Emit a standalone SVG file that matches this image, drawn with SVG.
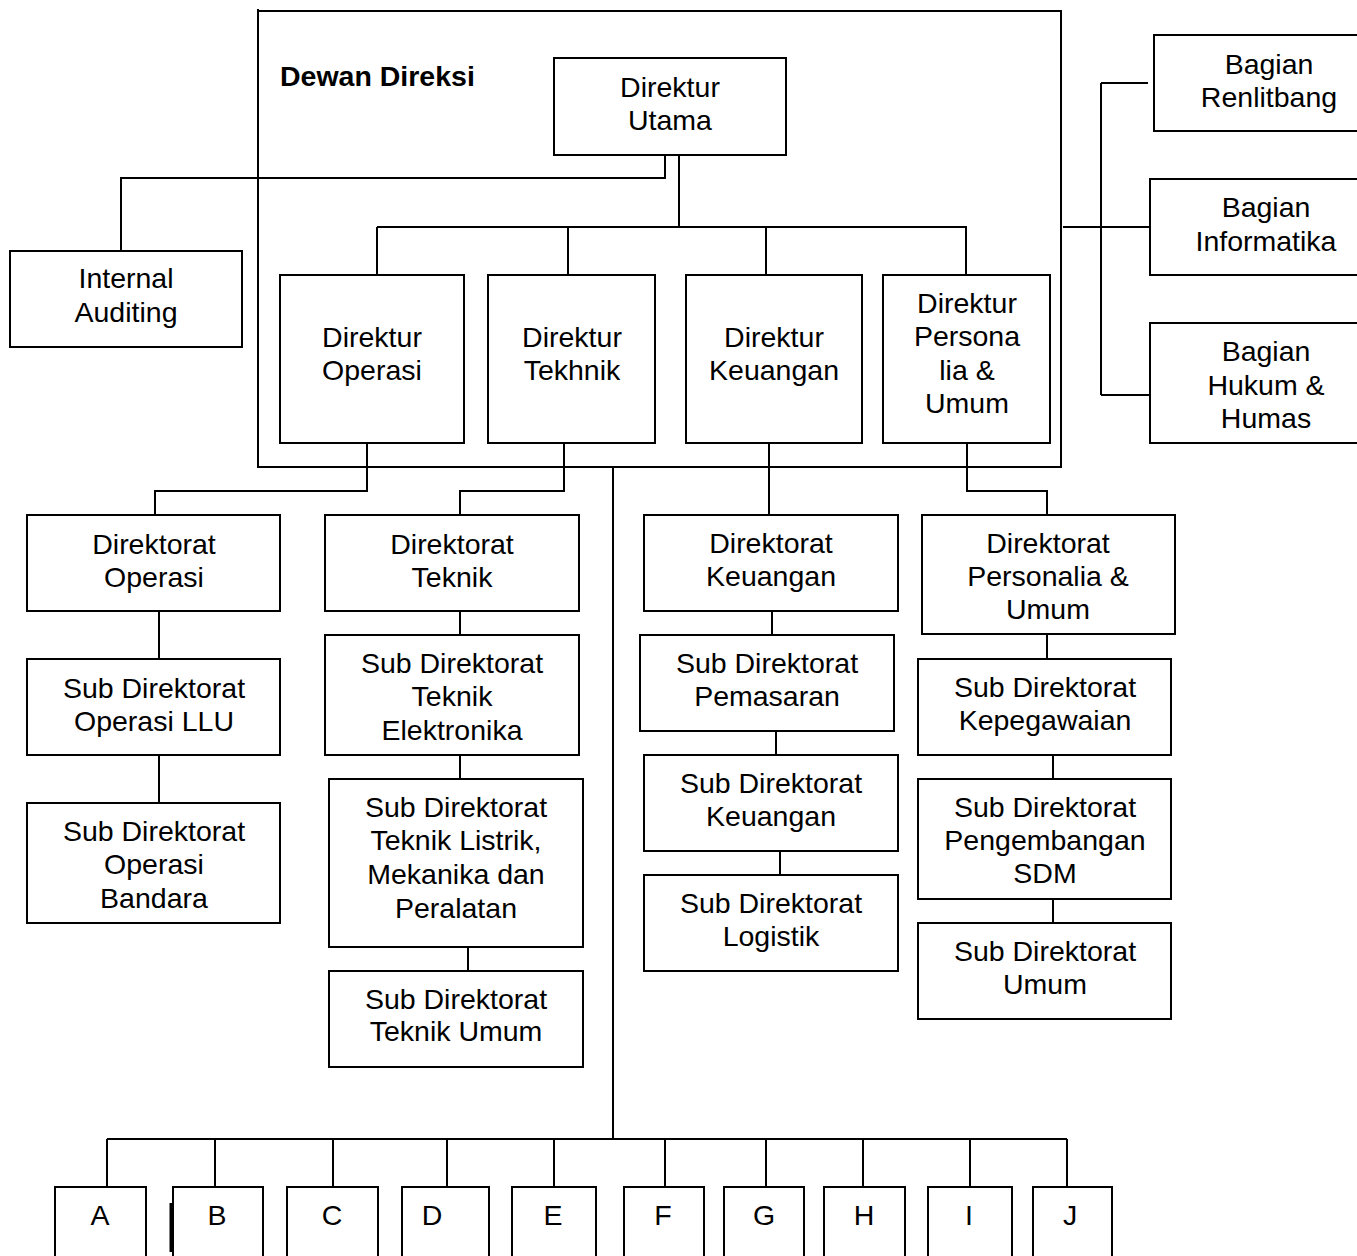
<svg xmlns="http://www.w3.org/2000/svg" width="1357" height="1256" viewBox="0 0 1357 1256">
<style>
.b{fill:#fff;stroke:#000;stroke-width:2}
.c{fill:none;stroke:#000;stroke-width:2}
text{font-family:"Liberation Sans",Arial,sans-serif;font-size:28.5px;fill:#000;text-anchor:middle}
.t{font-weight:bold;text-anchor:start}
</style>
<rect width="1357" height="1256" fill="#fff"/>
<g id="frame">
<path class="c" d="M258,9 V467 H1061 V11 H258"/>
<text class="t" x="280" y="86">Dewan Direksi</text>
</g>
<g id="connectors">
<path class="c" d="M665,155 V178 H121 V251"/>
<path class="c" d="M679,155 V227"/>
<path class="c" d="M377,227 H967 M377,227 V275 M568,227 V275 M766,227 V275 M966,227 V275"/>
<path class="c" d="M1063,227 H1150 M1101,83 V395 M1101,83 H1148 M1101,395 H1150"/>
<path class="c" d="M367,443 V491 H155 V515"/>
<path class="c" d="M564,443 V491 H460 V515"/>
<path class="c" d="M769,443 V515"/>
<path class="c" d="M967,443 V491 H1047 V515"/>
<path class="c" d="M159,611 V659 M159,755 V803"/>
<path class="c" d="M460,611 V635 M460,755 V779 M468,947 V971"/>
<path class="c" d="M772,611 V635 M776,731 V755 M780,851 V875"/>
<path class="c" d="M1047,634 V659 M1053,755 V779 M1053,899 V923"/>
<path class="c" d="M613,467 V1139"/>
<path class="c" d="M107,1139 H1067 M107,1139 V1187 M215,1139 V1187 M333,1139 V1187 M447,1139 V1187 M554,1139 V1187 M665,1139 V1187 M766,1139 V1187 M863,1139 V1187 M970,1139 V1187 M1067,1139 V1187"/>
<path stroke="#000" stroke-width="3" d="M171,1203 V1252"/>
</g>
<g id="dirut"><rect class="b" x="554" y="58" width="232" height="97"/><text x="670" y="97">Direktur</text><text x="670" y="130">Utama</text></g>
<g id="audit"><rect class="b" x="10" y="251" width="232" height="96"/><text x="126" y="288">Internal</text><text x="126" y="322">Auditing</text></g>
<g id="dir-operasi"><rect class="b" x="280" y="275" width="184" height="168"/><text x="372" y="347">Direktur</text><text x="372" y="380">Operasi</text></g>
<g id="dir-tekhnik"><rect class="b" x="488" y="275" width="167" height="168"/><text x="572" y="347">Direktur</text><text x="572" y="380">Tekhnik</text></g>
<g id="dir-keuangan"><rect class="b" x="686" y="275" width="176" height="168"/><text x="774" y="347">Direktur</text><text x="774" y="380">Keuangan</text></g>
<g id="dir-personalia"><rect class="b" x="883" y="275" width="167" height="168"/><text x="967" y="313">Direktur</text><text x="967" y="346">Persona</text><text x="967" y="380">lia &amp;</text><text x="967" y="413">Umum</text></g>
<g id="renlitbang"><rect class="b" x="1154" y="35" width="230" height="96"/><text x="1269" y="74">Bagian</text><text x="1269" y="107">Renlitbang</text></g>
<g id="informatika"><rect class="b" x="1150" y="179" width="234" height="96"/><text x="1266" y="217">Bagian</text><text x="1266" y="251">Informatika</text></g>
<g id="hukum"><rect class="b" x="1150" y="323" width="234" height="120"/><text x="1266" y="361">Bagian</text><text x="1266" y="395">Hukum &amp;</text><text x="1266" y="428">Humas</text></g>
<g id="dt-operasi"><rect class="b" x="27" y="515" width="253" height="96"/><text x="154" y="554">Direktorat</text><text x="154" y="587">Operasi</text></g>
<g id="sd-llu"><rect class="b" x="27" y="659" width="253" height="96"/><text x="154" y="698">Sub Direktorat</text><text x="154" y="731">Operasi LLU</text></g>
<g id="sd-bandara"><rect class="b" x="27" y="803" width="253" height="120"/><text x="154" y="841">Sub Direktorat</text><text x="154" y="874">Operasi</text><text x="154" y="908">Bandara</text></g>
<g id="dt-teknik"><rect class="b" x="325" y="515" width="254" height="96"/><text x="452" y="554">Direktorat</text><text x="452" y="587">Teknik</text></g>
<g id="sd-elektronika"><rect class="b" x="325" y="635" width="254" height="120"/><text x="452" y="673">Sub Direktorat</text><text x="452" y="706">Teknik</text><text x="452" y="740">Elektronika</text></g>
<g id="sd-listrik"><rect class="b" x="329" y="779" width="254" height="168"/><text x="456" y="817">Sub Direktorat</text><text x="456" y="850">Teknik Listrik,</text><text x="456" y="884">Mekanika dan</text><text x="456" y="918">Peralatan</text></g>
<g id="sd-teknik-umum"><rect class="b" x="329" y="971" width="254" height="96"/><text x="456" y="1009">Sub Direktorat</text><text x="456" y="1041">Teknik Umum</text></g>
<g id="dt-keuangan"><rect class="b" x="644" y="515" width="254" height="96"/><text x="771" y="553">Direktorat</text><text x="771" y="586">Keuangan</text></g>
<g id="sd-pemasaran"><rect class="b" x="640" y="635" width="254" height="96"/><text x="767" y="673">Sub Direktorat</text><text x="767" y="706">Pemasaran</text></g>
<g id="sd-keuangan"><rect class="b" x="644" y="755" width="254" height="96"/><text x="771" y="793">Sub Direktorat</text><text x="771" y="826">Keuangan</text></g>
<g id="sd-logistik"><rect class="b" x="644" y="875" width="254" height="96"/><text x="771" y="913">Sub Direktorat</text><text x="771" y="946">Logistik</text></g>
<g id="dt-personalia"><rect class="b" x="922" y="515" width="253" height="119"/><text x="1048" y="553">Direktorat</text><text x="1048" y="586">Personalia &amp;</text><text x="1048" y="619">Umum</text></g>
<g id="sd-kepegawaian"><rect class="b" x="918" y="659" width="253" height="96"/><text x="1045" y="697">Sub Direktorat</text><text x="1045" y="730">Kepegawaian</text></g>
<g id="sd-sdm"><rect class="b" x="918" y="779" width="253" height="120"/><text x="1045" y="817">Sub Direktorat</text><text x="1045" y="850">Pengembangan</text><text x="1045" y="883">SDM</text></g>
<g id="sd-umum"><rect class="b" x="918" y="923" width="253" height="96"/><text x="1045" y="961">Sub Direktorat</text><text x="1045" y="994">Umum</text></g>
<g id="A"><rect class="b" x="55" y="1187" width="91" height="80"/><text x="100" y="1225">A</text></g>
<g id="B"><rect class="b" x="173" y="1187" width="90" height="80"/><text x="217" y="1225">B</text></g>
<g id="C"><rect class="b" x="287" y="1187" width="91" height="80"/><text x="332" y="1225">C</text></g>
<g id="D"><rect class="b" x="402" y="1187" width="87" height="80"/><text x="432" y="1225">D</text></g>
<g id="E"><rect class="b" x="512" y="1187" width="84" height="80"/><text x="553" y="1225">E</text></g>
<g id="F"><rect class="b" x="624" y="1187" width="80" height="80"/><text x="663" y="1225">F</text></g>
<g id="G"><rect class="b" x="724" y="1187" width="80" height="80"/><text x="764" y="1225">G</text></g>
<g id="H"><rect class="b" x="824" y="1187" width="81" height="80"/><text x="864" y="1225">H</text></g>
<g id="I"><rect class="b" x="928" y="1187" width="84" height="80"/><text x="969" y="1225">I</text></g>
<g id="J"><rect class="b" x="1033" y="1187" width="79" height="80"/><text x="1070" y="1225">J</text></g>
</svg>
